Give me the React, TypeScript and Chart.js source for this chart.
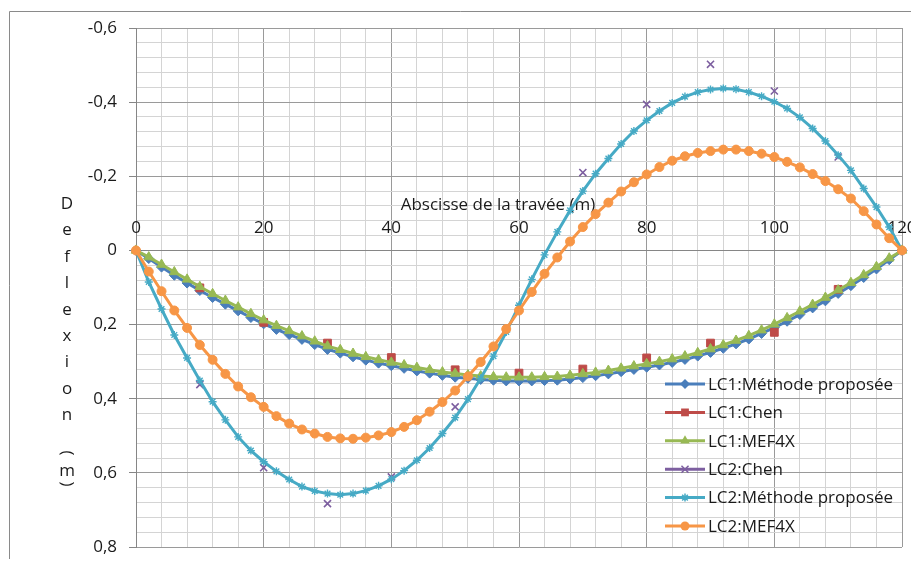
import { useEffect, useRef } from 'react';
import { Chart, registerables } from 'chart.js';

Chart.register(...registerables);

// ---------- data ----------
const xStations = [0, 2, 4, 6, 8, 10, 12, 14, 16, 18, 20, 22, 24, 26, 28, 30, 32, 34, 36, 38, 40, 42, 44, 46, 48, 50, 52, 54, 56, 58, 60, 62, 64, 66, 68, 70, 72, 74, 76, 78, 80, 82, 84, 86, 88, 90, 92, 94, 96, 98, 100, 102, 104, 106, 108, 110, 112, 114, 116, 118, 120];
const chenStations = [10, 20, 30, 40, 50, 60, 70, 80, 90, 100, 110];

const lc1Proposed = [0, 0.022, 0.045, 0.067, 0.088, 0.108, 0.127, 0.145, 0.163, 0.181, 0.198, 0.213, 0.227, 0.240, 0.254, 0.267, 0.277, 0.287, 0.296, 0.304, 0.311, 0.318, 0.325, 0.331, 0.337, 0.342, 0.345, 0.348, 0.350, 0.352, 0.352, 0.352, 0.351, 0.350, 0.347, 0.343, 0.338, 0.333, 0.327, 0.321, 0.315, 0.309, 0.302, 0.294, 0.285, 0.275, 0.264, 0.252, 0.239, 0.224, 0.208, 0.191, 0.173, 0.155, 0.136, 0.116, 0.095, 0.073, 0.050, 0.025, 0];
const lc1Chen = [0.101, 0.194, 0.25, 0.289, 0.322, 0.331, 0.32, 0.29, 0.25, 0.221, 0.105];
const lc1Mef4x = [0, 0.018, 0.038, 0.058, 0.078, 0.098, 0.117, 0.135, 0.153, 0.171, 0.188, 0.203, 0.217, 0.231, 0.245, 0.258, 0.268, 0.278, 0.287, 0.295, 0.302, 0.309, 0.316, 0.322, 0.328, 0.332, 0.336, 0.339, 0.341, 0.342, 0.342, 0.342, 0.341, 0.340, 0.337, 0.333, 0.329, 0.324, 0.318, 0.312, 0.306, 0.300, 0.293, 0.285, 0.276, 0.266, 0.255, 0.243, 0.230, 0.215, 0.199, 0.182, 0.164, 0.146, 0.127, 0.107, 0.087, 0.066, 0.044, 0.021, 0];
const lc2Chen = [0.362, 0.586, 0.683, 0.611, 0.422, null, -0.21, -0.394, -0.502, -0.43, -0.252];
const lc2Proposed = [0, 0.085, 0.158, 0.228, 0.29, 0.351, 0.408, 0.457, 0.503, 0.540, 0.570, 0.596, 0.618, 0.637, 0.649, 0.656, 0.659, 0.656, 0.648, 0.635, 0.617, 0.594, 0.566, 0.533, 0.494, 0.451, 0.401, 0.345, 0.285, 0.220, 0.148, 0.078, 0.012, -0.050, -0.108, -0.160, -0.207, -0.248, -0.287, -0.322, -0.351, -0.376, -0.398, -0.415, -0.427, -0.434, -0.437, -0.435, -0.427, -0.416, -0.401, -0.383, -0.359, -0.329, -0.295, -0.257, -0.216, -0.167, -0.117, -0.063, 0];
const lc2Mef4x = [0, 0.057, 0.11, 0.162, 0.209, 0.255, 0.295, 0.333, 0.367, 0.396, 0.422, 0.447, 0.467, 0.483, 0.494, 0.503, 0.507, 0.508, 0.505, 0.499, 0.490, 0.476, 0.458, 0.435, 0.409, 0.378, 0.340, 0.301, 0.259, 0.212, 0.162, 0.112, 0.063, 0.019, -0.024, -0.063, -0.098, -0.129, -0.159, -0.184, -0.205, -0.225, -0.242, -0.254, -0.263, -0.268, -0.272, -0.272, -0.268, -0.261, -0.252, -0.239, -0.224, -0.206, -0.187, -0.165, -0.140, -0.106, -0.070, -0.033, 0];

const xMajorTicks = [0, 20, 40, 60, 80, 100, 120];
const xTickLabels = ['0', '20', '40', '60', '80', '100', '120'];
const yMajorTicks = [-0.6, -0.4, -0.2, 0, 0.2, 0.4, 0.6, 0.8];
const yTickLabels = ['-0,6', '-0,4', '-0,2', '0', '0,2', '0,4', '0,6', '0,8'];
const xMinorStep = 4;
const yMinorStep = 0.04;

const xTitle = 'Abscisse de la travée (m)';
const yTitleLetters = ['D', 'e', 'f', 'l', 'e', 'x', 'i', 'o', 'n'];

// ---------- styles ----------
const FONT = '"Open Sans", sans-serif';
const FONT_SIZE = 17;
const TEXT = '#1a1a1a';
const MAJOR_GRID = '#9a9a9a';
const MINOR_GRID = '#d4d4d4';
const AXIS = '#868686';

type Series = {
  label: string;
  xs: number[];
  ys: (number | null)[];
  color: string;
  pointStyle: string;
  radius: number;
  pointBorder: number;
  showLine: boolean;
};

const series: Series[] = [
  { label: 'LC1:Méthode proposée', xs: xStations, ys: lc1Proposed, color: '#4A7EBB', pointStyle: 'rectRot', radius: 5, pointBorder: 1, showLine: true },
  { label: 'LC1:Chen', xs: chenStations, ys: lc1Chen, color: '#BE4B48', pointStyle: 'rect', radius: 5.5, pointBorder: 1, showLine: false },
  { label: 'LC1:MEF4X', xs: xStations, ys: lc1Mef4x, color: '#98B954', pointStyle: 'triangle', radius: 5.5, pointBorder: 1, showLine: true },
  { label: 'LC2:Chen', xs: chenStations, ys: lc2Chen, color: '#7D5FA0', pointStyle: 'crossRot', radius: 5, pointBorder: 1.6, showLine: false },
  { label: 'LC2:Méthode proposée', xs: xStations, ys: lc2Proposed, color: '#46AAC5', pointStyle: 'star', radius: 4, pointBorder: 1.4, showLine: true },
  { label: 'LC2:MEF4X', xs: xStations, ys: lc2Mef4x, color: '#F79646', pointStyle: 'circle', radius: 4.5, pointBorder: 1, showLine: true },
];

const isMajorX = (v: number) => xMajorTicks.some((t) => Math.abs(t - v) < 1e-6);
const isMajorY = (v: number) => yMajorTicks.some((t) => Math.abs(t - v) < 1e-6);

function drawMarker(ctx: CanvasRenderingContext2D, style: string, x: number, y: number, r: number, color: string) {
  ctx.save();
  ctx.fillStyle = color;
  ctx.strokeStyle = color;
  ctx.lineWidth = 1.5;
  ctx.beginPath();
  if (style === 'rectRot') {
    ctx.moveTo(x - r, y); ctx.lineTo(x, y - r); ctx.lineTo(x + r, y); ctx.lineTo(x, y + r); ctx.closePath(); ctx.fill();
  } else if (style === 'rect') {
    const s = r * Math.SQRT1_2;
    ctx.rect(x - s, y - s, 2 * s, 2 * s); ctx.fill();
  } else if (style === 'triangle') {
    for (let k = 0; k < 3; k++) {
      const a = (k * 2 * Math.PI) / 3;
      const px = x + Math.sin(a) * r;
      const py = y - Math.cos(a) * r;
      if (k === 0) ctx.moveTo(px, py); else ctx.lineTo(px, py);
    }
    ctx.closePath(); ctx.fill();
  } else if (style === 'crossRot') {
    const d = r * Math.SQRT1_2;
    ctx.moveTo(x - d, y - d); ctx.lineTo(x + d, y + d);
    ctx.moveTo(x + d, y - d); ctx.lineTo(x - d, y + d);
    ctx.stroke();
  } else if (style === 'star') {
    const d = r * Math.SQRT1_2;
    ctx.moveTo(x - d, y - d); ctx.lineTo(x + d, y + d);
    ctx.moveTo(x + d, y - d); ctx.lineTo(x - d, y + d);
    ctx.moveTo(x, y - r); ctx.lineTo(x, y + r);
    ctx.moveTo(x - r, y); ctx.lineTo(x + r, y);
    ctx.stroke();
  } else {
    ctx.arc(x, y, r, 0, Math.PI * 2); ctx.fill();
  }
  ctx.restore();
}

const decorPlugin = {
  id: 'decor',
  beforeDatasetsDraw(chart: any) {
    const ctx: CanvasRenderingContext2D = chart.ctx;
    const xs = chart.scales.x;
    const ys = chart.scales.y;
    const axisY = ys.getPixelForValue(0);
    ctx.save();
    ctx.fillStyle = TEXT;
    ctx.font = `${FONT_SIZE}px ${FONT}`;
    ctx.textAlign = 'center';
    ctx.textBaseline = 'middle';
    xMajorTicks.forEach((v, i) => {
      ctx.fillText(xTickLabels[i], xs.getPixelForValue(v), axisY - 22);
    });
    ctx.fillText(xTitle, 490, axisY - 45);

    // vertical stacked y title
    ctx.textBaseline = 'alphabetic';
    const cx = 59;
    yTitleLetters.forEach((ch, i) => {
      ctx.fillText(ch, cx, 201 + i * 26.4);
    });
    ctx.textBaseline = 'middle';
    ctx.save(); ctx.translate(cx, 445); ctx.rotate(Math.PI / 2); ctx.fillText('(', 0, 0); ctx.restore();
    ctx.textBaseline = 'alphabetic';
    ctx.fillText('m', cx, 468);
    ctx.textBaseline = 'middle';
    ctx.save(); ctx.translate(cx, 476); ctx.rotate(Math.PI / 2); ctx.fillText(')', 0, 0); ctx.restore();

    // outer frame
    ctx.strokeStyle = '#8a8a8a';
    ctx.lineWidth = 1;
    ctx.beginPath();
    ctx.moveTo(1.5, chart.height + 5);
    ctx.lineTo(1.5, 3.5);
    ctx.lineTo(chart.width + 5, 3.5);
    ctx.stroke();
    ctx.restore();
  },
  afterDraw(chart: any) {
    const ctx: CanvasRenderingContext2D = chart.ctx;
    ctx.save();
    ctx.font = `${FONT_SIZE}px ${FONT}`;
    ctx.textAlign = 'left';
    ctx.textBaseline = 'middle';
    series.forEach((s, i) => {
      const y = 376 + i * 28.4;
      ctx.strokeStyle = s.color;
      ctx.lineWidth = 3;
      ctx.beginPath();
      ctx.moveTo(657, y);
      ctx.lineTo(697, y);
      ctx.stroke();
      drawMarker(ctx, s.pointStyle, 677, y, s.radius, s.color);
      ctx.fillStyle = TEXT;
      ctx.fillText(s.label, 700, y + 1);
    });
    ctx.restore();
  },
};

export default function App() {
  const canvasRef = useRef<HTMLCanvasElement | null>(null);

  useEffect(() => {
    if (!canvasRef.current) return;
    const datasets = series.map((s, i) => ({
      label: s.label,
      data: s.xs.map((x, k) => ({ x, y: s.ys[k] })),
      borderColor: s.color,
      backgroundColor: s.color,
      borderWidth: 3,
      showLine: s.showLine,
      pointStyle: s.pointStyle,
      pointRadius: s.radius,
      pointBorderWidth: s.pointBorder,
      pointBorderColor: s.color,
      pointBackgroundColor: s.color,
      tension: 0,
      spanGaps: false,
      clip: false as any,
      order: series.length - i,
    }));

    const chart = new Chart(canvasRef.current, {
      type: 'line',
      data: { datasets },
      plugins: [decorPlugin],
      options: {
        animation: false,
        responsive: false,
        layout: { padding: { left: 0, right: 9, top: 20, bottom: 12 } },
        plugins: { legend: { display: false }, tooltip: { enabled: false } },
        scales: {
          x: {
            type: 'linear',
            min: 0,
            max: 120,
            position: { y: 0 } as any,
            afterFit: (scale: any) => {
              scale.height = 0;
              scale.paddingLeft = 0;
              scale.paddingRight = 0;
            },
            afterBuildTicks: (scale: any) => {
              const t: { value: number }[] = [];
              for (let v = 0; v <= 120 + 1e-9; v += xMinorStep) t.push({ value: Math.round(v * 1000) / 1000 });
              scale.ticks = t;
            },
            ticks: { display: false, autoSkip: false },
            grid: {
              drawTicks: false,
              color: (c: any) => (c.tick && isMajorX(c.tick.value) ? MAJOR_GRID : MINOR_GRID),
              lineWidth: 1,
            },
            border: { display: true, color: AXIS, width: 1 },
          },
          y: {
            type: 'linear',
            reverse: true,
            min: -0.6,
            max: 0.8,
            position: 'left',
            afterFit: (scale: any) => {
              scale.width = 128;
              scale.paddingTop = 0;
              scale.paddingBottom = 0;
            },
            afterBuildTicks: (scale: any) => {
              const t: { value: number }[] = [];
              const n = Math.round((0.8 - -0.6) / yMinorStep);
              for (let k = 0; k <= n; k++) t.push({ value: Math.round((-0.6 + k * yMinorStep) * 1000) / 1000 });
              scale.ticks = t;
            },
            ticks: {
              autoSkip: false,
              padding: 12,
              color: TEXT,
              font: { family: FONT, size: FONT_SIZE },
              callback: (v: any) => {
                const idx = yMajorTicks.findIndex((t) => Math.abs(t - Number(v)) < 1e-6);
                return idx >= 0 ? yTickLabels[idx] : '';
              },
            },
            grid: {
              drawTicks: true,
              tickLength: 7,
              color: (c: any) => (c.tick && isMajorY(c.tick.value) ? MAJOR_GRID : MINOR_GRID),
              tickColor: (c: any) => (c.tick && isMajorY(c.tick.value) ? AXIS : 'rgba(0,0,0,0)'),
              lineWidth: 1,
            },
            border: { display: true, color: AXIS, width: 1 },
          },
        },
      },
    });
    return () => chart.destroy();
  }, []);

  return (
    <div style={{ width: 903, height: 551, position: 'relative' }}>
      <canvas ref={canvasRef} width={903} height={551} style={{ display: 'block' }} />
    </div>
  );
}
